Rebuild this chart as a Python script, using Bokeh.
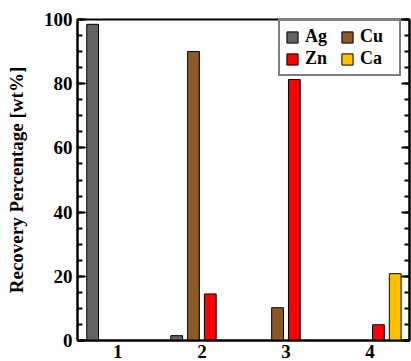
from bokeh.plotting import figure
from bokeh.models import ColumnDataSource, Legend, LegendItem, LinearAxis, FixedTicker, Range1d
from bokeh.transform import dodge
from bokeh.embed import file_html
from bokeh.resources import INLINE

groups = [1, 2, 3, 4]
tick_labels = ["1", "2", "3", "4"]
series = ["Ag", "Cu", "Zn", "Ca"]
ag = [98.5, 1.5, 0, 0]
cu = [0, 90.0, 10.2, 0]
zn = [0, 14.5, 81.3, 4.9]
ca = [0, 0, 0, 20.8]
colors = ["#646464", "#8B5A2B", "#FF0000", "#FFC000"]
y_ticks = [0, 20, 40, 60, 80, 100]
y_minor = list(range(0, 101, 5))

src = ColumnDataSource(dict(x=groups, Ag=ag, Cu=cu, Zn=zn, Ca=ca))

FONT = "Liberation Serif"

p = figure(width=411, height=361, x_range=Range1d(0.52, 4.47), y_range=Range1d(0, 100),
           output_backend="svg", toolbar_location=None,
           min_border_left=77, min_border_right=2, min_border_top=19, min_border_bottom=21)
p.xgrid.visible = False
p.ygrid.visible = False
p.outline_line_color = "black"
p.outline_line_width = 2
p.background_fill_color = "white"
p.border_fill_color = "white"

offsets = [-0.3, -0.1, 0.1, 0.3]
renderers = {}
for name, off, col in zip(series, offsets, colors):
    r = p.vbar(x=dodge("x", off, range=p.x_range), top=name, width=0.14, bottom=0,
               source=src, fill_color=col, line_color="black", line_width=1)
    renderers[name] = r

# axes
xa = p.xaxis[0]
xa.ticker = FixedTicker(ticks=groups)
xa.major_label_overrides = {g: t for g, t in zip(groups, tick_labels)}
xa.major_tick_in = 0
xa.major_tick_out = 0
xa.minor_tick_in = 0
xa.minor_tick_out = 0
xa.axis_line_width = 2
xa.major_label_standoff = 4
xa.major_label_text_font = FONT
xa.major_label_text_font_style = "bold"
xa.major_label_text_font_size = "19px"
xa.major_label_text_color = "black"

ya = p.yaxis[0]
ya.ticker = FixedTicker(ticks=y_ticks, minor_ticks=y_minor)
ya.major_tick_in = 8
ya.major_tick_out = 0
ya.minor_tick_in = 5
ya.minor_tick_out = 0
ya.major_tick_line_width = 2
ya.minor_tick_line_width = 2
ya.axis_line_width = 2
ya.major_label_standoff = 5
ya.major_label_text_font = FONT
ya.major_label_text_font_style = "bold"
ya.major_label_text_font_size = "19px"
ya.major_label_text_color = "black"
ya.axis_label = "Recovery Percentage [wt%]"
ya.axis_label_text_font = FONT
ya.axis_label_text_font_style = "bold"
ya.axis_label_text_font_size = "19px"
ya.axis_label_text_color = "black"
ya.axis_label_standoff = 14

ra = LinearAxis(ticker=FixedTicker(ticks=y_ticks, minor_ticks=y_minor))
ra.major_tick_in = 8
ra.major_tick_out = 0
ra.minor_tick_in = 5
ra.minor_tick_out = 0
ra.major_tick_line_width = 2
ra.minor_tick_line_width = 2
ra.axis_line_width = 2
ra.major_label_overrides = {t: "" for t in y_ticks}
ra.major_label_standoff = 0
p.add_layout(ra, "right")

legend = Legend(items=[LegendItem(label=n, renderers=[renderers[n]]) for n in ["Ag", "Zn", "Cu", "Ca"]],
                ncols=2, location=(201, 264))
legend.label_text_font = FONT
legend.label_text_font_style = "bold"
legend.label_text_font_size = "18px"
legend.label_text_color = "black"
legend.glyph_width = 14
legend.glyph_height = 14
legend.label_standoff = 6
legend.label_width = 34
legend.label_height = 20
legend.spacing = 1
legend.padding = 5
legend.margin = 0
legend.border_line_color = "black"
legend.border_line_width = 2
legend.background_fill_alpha = 1
p.add_layout(legend, "center")

open("out.html", "w").write(file_html(p, INLINE))
